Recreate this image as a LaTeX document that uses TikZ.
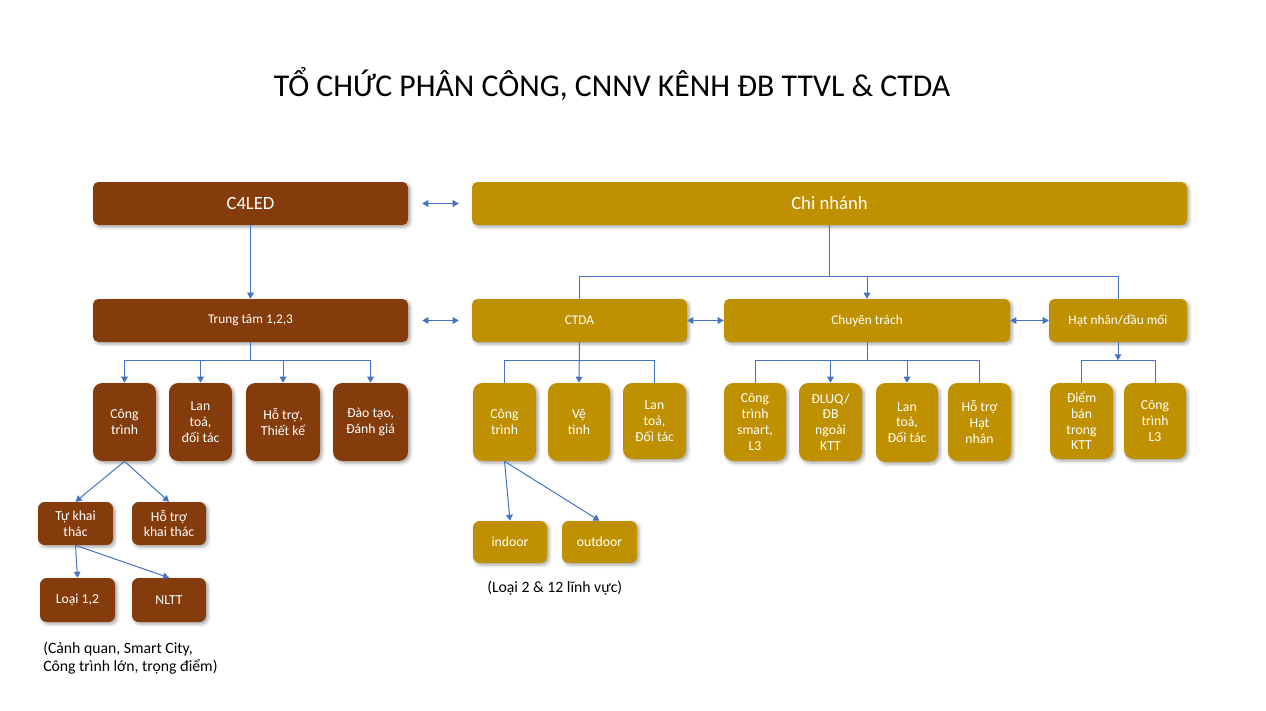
\documentclass[tikz,border=0pt]{standalone}
\usepackage{fontspec}
\setmainfont{Carlito}
\usetikzlibrary{arrows.meta,shadows.blur}
\definecolor{brownc}{HTML}{843C0C}
\definecolor{goldc}{HTML}{BF9000}
\definecolor{linec}{HTML}{4472C4}
\begin{document}
\begin{tikzpicture}[x=0.75pt,y=-0.75pt,
 sz/.style 2 args={minimum width=#1*0.75pt, minimum height=#2*0.75pt},
 box/.style={rounded corners=4pt, inner sep=0pt, text=white, align=center,
   font=\fontsize{10.3}{11.8}\selectfont,
   blur shadow={shadow xshift=1.5pt,shadow yshift=-1.5pt,shadow blur radius=2.5pt,shadow opacity=35}},
 tall/.style={rounded corners=7pt},
 small/.style={rounded corners=5pt},
 bbox/.style={box, fill=brownc},
 gbox/.style={box, fill=goldc},
 big/.style={font=\fontsize{14}{16}\selectfont},
 conn/.style={draw=linec, line width=0.75pt},
 arr/.style={conn, -{Triangle[length=4.5pt,width=5pt]}},
 darr/.style={conn, {Triangle[length=4.5pt,width=5pt]}-{Triangle[length=4.5pt,width=5pt]}},
 note/.style={font=\fontsize{11.8}{13.5}\selectfont, align=left, anchor=west, inner sep=0pt}
]
\useasboundingbox (0,0) rectangle (1266,710);

% title
\node[font=\fontsize{23.8}{28}\selectfont] (title) at (612,84) {TỔ CHỨC PHÂN CÔNG, CNNV KÊNH ĐB TTVL \& CTDA};

% top level
\node[bbox, big, sz={315}{43}] (c4led) at (250.5,203.5) {C4LED};
\node[gbox, big, sz={715}{43}] (chinhanh) at (829.5,203.5) {Chi nhánh};

% second level
\node[bbox, font=\fontsize{10}{11.7}\selectfont, sz={315}{43}] (tt) at (250.5,320.5) {Trung tâm 1,2,3};
\node[gbox, font=\fontsize{10}{11.7}\selectfont, sz={215}{43}] (ctda) at (579.5,320.5) {CTDA};
\node[gbox, font=\fontsize{10}{11.7}\selectfont, sz={286}{43}] (ct) at (867,320.5) {Chuyên trách};
\node[gbox, font=\fontsize{10}{11.7}\selectfont, sz={138}{43}] (hn) at (1118,320.5) {Hạt nhân/đầu mối};

% third level - brown
\node[bbox, tall, sz={63}{78}] (b1) at (124.5,422) {Công\\trình};
\node[bbox, tall, sz={63}{78}] (b2) at (200.5,422) {Lan\\toả,\\đối tác};
\node[bbox, tall, sz={74}{78}] (b3) at (283,422) {Hỗ trợ,\\Thiết kế};
\node[bbox, tall, sz={75}{78}] (b4) at (370.5,422) {Đào tạo,\\Đánh giá};

% third level - gold
\node[gbox, tall, sz={63}{78}] (g1) at (504.5,422) {Công\\trình};
\node[gbox, tall, sz={62}{78}] (g2) at (579,422) {Vệ\\tinh};
\node[gbox, tall, sz={63}{76}] (g3) at (654.5,421) {Lan\\toả,\\Đối tác};

\node[gbox, tall, sz={62}{78}] (c1) at (755,422) {Công\\trình\\smart,\\L3};
\node[gbox, tall, sz={63}{78}] (c2) at (830.5,422) {ĐLUQ/\\ĐB\\ngoài\\KTT};
\node[gbox, tall, sz={62}{79}] (c3) at (907,422.5) {Lan\\toả,\\Đối tác};
\node[gbox, tall, sz={63}{78}] (c4) at (979.5,422) {Hỗ trợ\\Hạt\\nhân};

\node[gbox, tall, sz={63}{76}] (h1) at (1081.5,421) {Điểm\\bán\\trong\\KTT};
\node[gbox, tall, sz={62}{76}] (h2) at (1155,421) {Công\\trình\\L3};

% fourth level
\node[bbox, small, sz={75}{43}] (t1) at (75.5,523.5) {Tự khai\\thác};
\node[bbox, small, sz={74}{43}] (t2) at (169,523.5) {Hỗ trợ\\khai thác};
\node[bbox, small, sz={75}{44}] (l1) at (77.5,600) {Loại 1,2};
\node[bbox, small, sz={74}{44}] (l2) at (169,600) {NLTT};

\node[gbox, small, sz={74}{42}] (i1) at (510,542) {indoor};
\node[gbox, small, sz={75}{42}] (i2) at (599.5,542) {outdoor};

% notes
\node[note] (n1) at (43,658) {(Cảnh quan, Smart City,\\Công trình lớn, trọng điểm)};
\node[note] (n2) at (487,588) {(Loại 2 \& 12 lĩnh vực)};

% connectors
\draw[arr] (c4led) -- (tt);
\draw[darr] ([xshift=10.5pt]c4led.east) -- ([xshift=-9.75pt]chinhanh.west);
\draw[darr] ([xshift=10.5pt]tt.east) -- ([xshift=-9.75pt]ctda.west);
\draw[darr] (ctda.east) -- (ct.west);
\draw[darr] (ct.east) -- (hn.west);

\coordinate (cj) at ([yshift=-38.25pt]chinhanh.south);
\draw[conn] (chinhanh.south) -- (cj) -| (ctda.north);
\draw[arr] (cj) -| (ct.north);
\draw[conn] (cj) -| (hn.north);

\coordinate (tj) at ([yshift=-13.5pt]tt.south);
\draw[conn] (tt.south) -- (tj);
\draw[arr] (tj) -| (b1.north);
\draw[arr] (tj) -| (b2.north);
\draw[arr] (tj) -| (b3.north);
\draw[arr] (tj) -| (b4.north);

\coordinate (dj) at ([yshift=-13.5pt]ctda.south);
\draw[conn] (dj) -| (g1.north);
\draw[arr] (ctda.south) -- (g2.north);
\draw[conn] (dj) -| (g3.north);

\coordinate (ej) at ([yshift=-13.5pt]ct.south);
\draw[conn] (ct.south) -- (ej);
\draw[conn] (ej) -| (c1.north);
\draw[arr] (ej) -| (c2.north);
\draw[arr] (ej) -| (c3.north);
\draw[conn] (ej) -| (c4.north);

\coordinate (hj) at ([yshift=-13.5pt]hn.south);
\draw[arr] (hn.south) -- (hj);
\draw[conn] (hj) -| (h1.north);
\draw[conn] (hj) -| (h2.north);

\draw[arr] (b1.south) -- (t1.north);
\draw[arr] (b1.south) -- (t2.north);
\draw[arr] (t1.south) -- (l1.north);
\draw[arr] (t1.south) -- (l2.north);
\draw[arr] (g1.south) -- (i1.north);
\draw[arr] (g1.south) -- (i2.north);
\end{tikzpicture}
\end{document}
